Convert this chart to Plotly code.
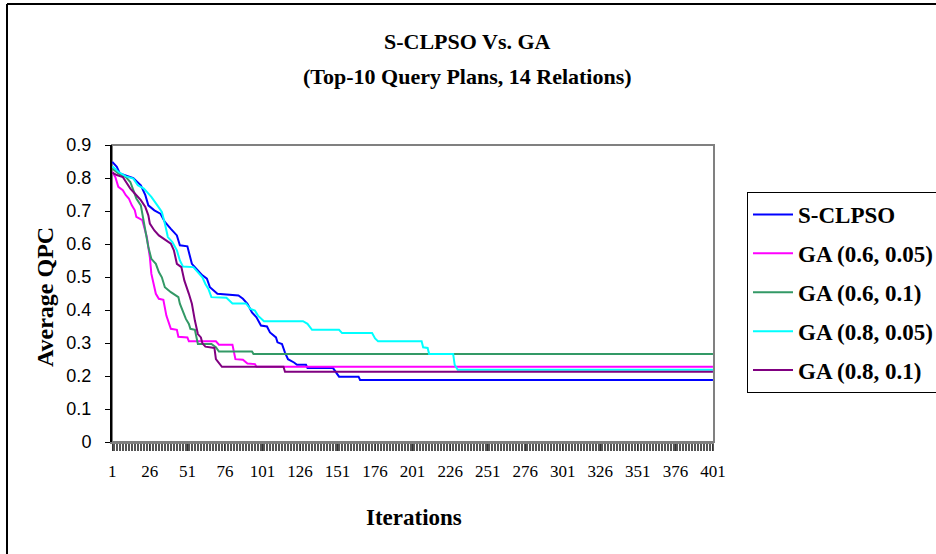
import plotly.graph_objects as go

# ---------------- data ----------------
series_names = ["S-CLPSO", "GA (0.6, 0.05)", "GA (0.6, 0.1)", "GA (0.8, 0.05)", "GA (0.8, 0.1)"]
series_colors = ["#0000FF", "#FF00FF", "#339966", "#00FFFF", "#800080"]

sclpso_it = [1, 4, 6, 15, 20, 23, 25, 29, 33, 36, 40, 44, 46, 51, 54, 58, 61, 64, 66, 71, 85, 88, 91, 94,
             97, 100, 104, 106, 110, 111, 114, 116, 118, 122, 124, 130, 131, 148, 152, 165, 166, 401]
sclpso_val = [0.849, 0.834, 0.814, 0.800, 0.778, 0.748, 0.717, 0.702, 0.692, 0.667, 0.646, 0.626, 0.596,
              0.593, 0.540, 0.520, 0.505, 0.495, 0.469, 0.449, 0.444, 0.434, 0.419, 0.393, 0.378, 0.353,
              0.350, 0.332, 0.317, 0.302, 0.297, 0.271, 0.251, 0.241, 0.234, 0.234, 0.224, 0.224, 0.198,
              0.198, 0.188, 0.188]

ga0605_it = [1, 3, 5, 8, 10, 12, 14, 16, 17, 20, 21, 24, 26, 27, 30, 32, 35, 37, 40, 44, 45, 51, 52, 70,
             72, 81, 83, 88, 91, 96, 97, 401]
ga0605_val = [0.819, 0.803, 0.773, 0.763, 0.748, 0.738, 0.717, 0.702, 0.682, 0.674, 0.672, 0.621, 0.560,
              0.510, 0.449, 0.434, 0.431, 0.383, 0.343, 0.340, 0.319, 0.317, 0.305, 0.305, 0.295, 0.295,
              0.251, 0.249, 0.238, 0.236, 0.228, 0.228]

ga0601_it = [1, 5, 10, 13, 15, 17, 20, 21, 23, 25, 27, 30, 32, 34, 36, 40, 43, 45, 46, 50, 52, 53, 56, 57,
             58, 67, 70, 72, 94, 95, 401]
ga0601_val = [0.829, 0.814, 0.803, 0.788, 0.763, 0.738, 0.717, 0.687, 0.641, 0.591, 0.555, 0.540, 0.515,
              0.499, 0.469, 0.454, 0.444, 0.439, 0.419, 0.373, 0.358, 0.343, 0.340, 0.322, 0.297, 0.297,
              0.287, 0.274, 0.274, 0.267, 0.267]

ga0805_it = [1, 5, 10, 15, 18, 22, 24, 27, 31, 34, 36, 38, 41, 44, 46, 48, 55, 58, 61, 63, 65, 67, 77, 81,
             90, 93, 96, 98, 102, 128, 131, 134, 152, 154, 174, 176, 178, 207, 208, 211, 212, 228, 229,
             231, 401]
ga0805_val = [0.836, 0.819, 0.805, 0.798, 0.778, 0.768, 0.758, 0.743, 0.717, 0.697, 0.662, 0.621, 0.606,
              0.581, 0.550, 0.532, 0.530, 0.515, 0.499, 0.479, 0.464, 0.439, 0.437, 0.420, 0.420, 0.403,
              0.398, 0.383, 0.366, 0.366, 0.358, 0.340, 0.340, 0.330, 0.330, 0.314, 0.305, 0.305, 0.287,
              0.285, 0.267, 0.267, 0.234, 0.219, 0.219]

ga0801_it = [1, 4, 8, 10, 13, 16, 20, 23, 25, 26, 29, 32, 36, 40, 42, 44, 47, 49, 52, 54, 56, 58, 60, 61,
             63, 69, 70, 72, 74, 115, 116, 401]
ga0801_val = [0.816, 0.809, 0.803, 0.788, 0.768, 0.753, 0.733, 0.712, 0.687, 0.662, 0.641, 0.626, 0.613,
              0.601, 0.581, 0.540, 0.530, 0.489, 0.449, 0.419, 0.368, 0.327, 0.317, 0.299, 0.289, 0.285,
              0.251, 0.241, 0.228, 0.228, 0.213, 0.213]

x_tick_vals = [1, 26, 51, 76, 101, 126, 151, 176, 201, 226, 251, 276, 301, 326, 351, 376, 401]
x_tick_text = [str(v) for v in x_tick_vals]
y_tick_vals = [0, 0.1, 0.2, 0.3, 0.4, 0.5, 0.6, 0.7, 0.8, 0.9]
y_tick_text = ["0", "0.1", "0.2", "0.3", "0.4", "0.5", "0.6", "0.7", "0.8", "0.9"]

title_line1 = "S-CLPSO Vs. GA"
title_line2 = "(Top-10 Query Plans, 14 Relations)"
x_title = "Iterations"
y_title = "Average QPC"

# ---------------- layout geometry ----------------
W, H = 936, 554
L, R, T, B = 112, 222, 145, 112
pw, ph = W - L - R, H - T - B

def px(xp):
    return (xp - L) / pw

def py(yp):
    return (H - B - yp) / ph

SERIF = "Liberation Serif, Times New Roman, serif"
SANS = "Liberation Sans, Arial, sans-serif"

fig = go.Figure()
all_x = [sclpso_it, ga0605_it, ga0601_it, ga0805_it, ga0801_it]
all_y = [sclpso_val, ga0605_val, ga0601_val, ga0805_val, ga0801_val]
for i, (nm, col) in enumerate(zip(series_names, series_colors)):
    fig.add_trace(go.Scatter(x=all_x[i], y=all_y[i], mode="lines", name=nm,
                             legendgroup=nm,
                             line=dict(color=col, width=2), hoverinfo="skip"))

fig.update_layout(
    width=W, height=H,
    margin=dict(l=L, r=R, t=T, b=B, autoexpand=False),
    paper_bgcolor="white", plot_bgcolor="white",
    showlegend=True,
    legend=dict(x=px(747), y=py(192), xanchor="left", yanchor="top",
                bordercolor="#000000", borderwidth=1, bgcolor="white",
                font=dict(family=SERIF, size=23, color="black", weight="bold"),
                traceorder="grouped", tracegroupgap=6, itemwidth=40,
                entrywidth=230, entrywidthmode="pixels"),
    xaxis=dict(range=[0.8, 401.7], showgrid=False, zeroline=False,
               showline=True, linecolor="#808080", linewidth=2,
               tickmode="array", tickvals=x_tick_vals, ticktext=x_tick_text,
               ticks="outside", ticklen=7, tickcolor="#333333", tickwidth=1,
               ticklabelstandoff=6,
               minor=dict(dtick=1, tick0=0.5, ticks="outside", ticklen=7, tickcolor="#555555", tickwidth=1),
               tickfont=dict(family=SERIF, size=17, color="black")),
    yaxis=dict(range=[0, 0.9], showgrid=False, zeroline=False,
               showline=True, linecolor="black", linewidth=2,
               tickmode="array", tickvals=y_tick_vals, ticktext=y_tick_text,
               ticks="outside", ticklen=5, tickcolor="black", tickwidth=1,
               ticklabelstandoff=10,
               tickfont=dict(family=SANS, size=18, color="black")),
    shapes=[
        dict(type="rect", xref="paper", yref="paper", x0=0, x1=1, y0=0, y1=1,
             line=dict(color="#808080", width=2), layer="below"),
        dict(type="line", xref="paper", yref="paper", x0=px(7), x1=px(940), y0=py(4), y1=py(4),
             line=dict(color="black", width=2)),
        dict(type="line", xref="paper", yref="paper", x0=px(7), x1=px(7), y0=py(4), y1=py(560),
             line=dict(color="black", width=2)),
    ],
    annotations=[
        dict(text=f"<b>{title_line1}</b>", xref="paper", yref="paper", x=px(467), y=py(42),
             showarrow=False, xanchor="center", yanchor="middle",
             font=dict(family=SERIF, size=22, color="black")),
        dict(text=f"<b>{title_line2}</b>", xref="paper", yref="paper", x=px(467), y=py(77),
             showarrow=False, xanchor="center", yanchor="middle",
             font=dict(family=SERIF, size=22, color="black")),
        dict(text=f"<b>{x_title}</b>", xref="paper", yref="paper", x=px(414), y=py(517),
             showarrow=False, xanchor="center", yanchor="middle",
             font=dict(family=SERIF, size=23, color="black")),
        dict(text=f"<b>{y_title}</b>", xref="paper", yref="paper", x=px(45), y=py(297),
             showarrow=False, xanchor="center", yanchor="middle", textangle=-90,
             font=dict(family=SERIF, size=24, color="black")),
    ],
)

fig.write_html("out.html")
